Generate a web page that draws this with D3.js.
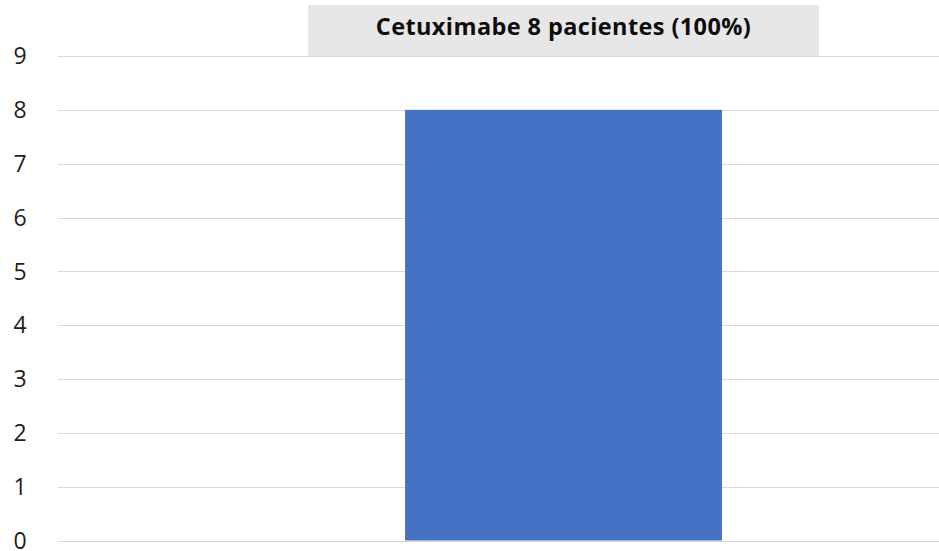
<!DOCTYPE html>
<html>
<head>
<meta charset="utf-8">
<script src="https://cdn.jsdelivr.net/npm/d3@7"></script>
<style>
  html, body { margin: 0; padding: 0; background: #fff; }
  svg { display: block; }
</style>
</head>
<body>
<script>
// data
let categories = ["Cetuximabe"];
let values = [8];
let y_ticks = [0, 1, 2, 3, 4, 5, 6, 7, 8, 9];
let title_text = "Cetuximabe 8 pacientes (100%)";

// colors
let color_bar = "#4472c4";
let color_grid = "#d9d9d9";
let color_title_bg = "#e7e7e7";

let width = 939;
let height = 551;

// plot area runs past the right edge of the window (chart is cropped)
let plot = {left: 58, right: 1069, top: 56, bottom: 540.5};

let svg = d3.select("body")
            .append("svg")
            .attr("width", width)
            .attr("height", height);

let x = d3.scaleBand()
          .domain(categories)
          .range([plot.left, plot.right])
          .padding(0.5227);

let y = d3.scaleLinear()
          .domain([0, 9])
          .range([plot.bottom, plot.top]);

// gridlines
svg.append("g")
   .selectAll("line")
   .data(y_ticks)
   .join("line")
   .attr("x1", plot.left)
   .attr("x2", plot.right)
   .attr("y1", d => Math.round(y(d)) + 0.5)
   .attr("y2", d => Math.round(y(d)) + 0.5)
   .style("stroke", color_grid)
   .style("stroke-width", 1);

// y axis labels
let y_axis = svg.append("g")
                .attr("transform", "translate(30,0)")
                .call(d3.axisLeft(y).tickValues(y_ticks).tickSize(0).tickPadding(0));
y_axis.select(".domain").remove();
y_axis.selectAll("text")
      .attr("x", -10)
      .attr("dy", "0.34em")
      .attr("text-anchor", "middle")
      .style("font-family", "'Open Sans', 'Noto Sans', sans-serif")
      .style("font-size", "23px")
      .style("fill", "#1e1e1e");

// bars
svg.append("g")
   .selectAll("rect")
   .data(values)
   .join("rect")
   .attr("x", (d, i) => x(categories[i]))
   .attr("width", x.bandwidth())
   .attr("y", d => y(d))
   .attr("height", d => y(0) - y(d))
   .style("fill", color_bar);

// title box
let title_cx = x(categories[0]) + x.bandwidth() / 2;
let title_w = 511;
svg.append("rect")
   .attr("x", title_cx - title_w / 2)
   .attr("y", 5)
   .attr("width", title_w)
   .attr("height", 51)
   .style("fill", color_title_bg);

svg.append("text")
   .attr("x", title_cx)
   .attr("y", 34.5)
   .attr("text-anchor", "middle")
   .style("font-family", "'Open Sans', 'Noto Sans', sans-serif")
   .style("font-weight", "bold")
   .style("font-size", "23.5px")
   .style("letter-spacing", "0.4px")
   .style("fill", "#0d0d0d")
   .text(title_text);
</script>
</body>
</html>
